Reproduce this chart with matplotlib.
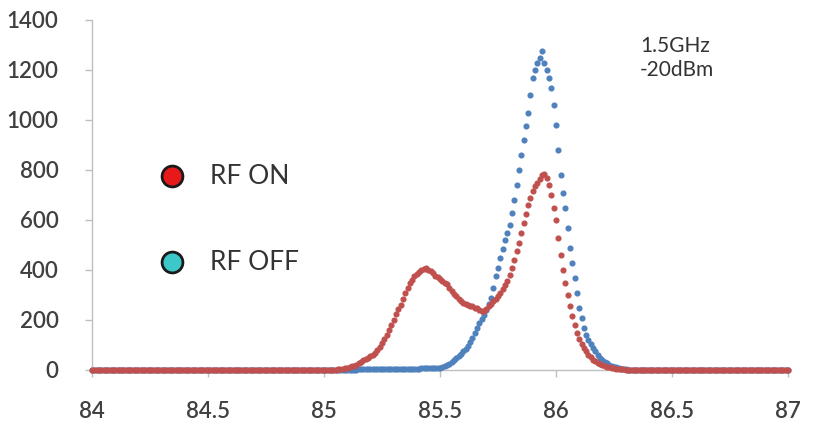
import numpy as np
import matplotlib
matplotlib.use("Agg")
import matplotlib.pyplot as plt

# ---- data -----------------------------------------------------------------
# frequency grid of the active region (85.00 ... 86.40, step 0.01)
x_active = np.round(np.arange(85.00, 86.405, 0.01), 2)

rf_on = [
    0, 0, 1, 1, 2, 2, 3, 4, 5, 7,                       # 85.0x
    10, 12, 15, 18, 22, 27, 32, 40, 45, 50,             # 85.1x
    55, 62, 70, 80, 92, 108, 125, 142, 160, 180,        # 85.2x
    200, 225, 245, 262, 285, 310, 330, 348, 360, 375,   # 85.3x
    385, 392, 400, 405, 410, 400, 395, 388, 378, 372,   # 85.4x
    365, 358, 350, 345, 330, 318, 305, 295, 285, 275,   # 85.5x
    268, 265, 262, 258, 255, 250, 248, 240, 235, 238,   # 85.6x
    245, 255, 265, 275, 285, 298, 310, 325, 340, 355,   # 85.7x
    380, 410, 440, 475, 510, 550, 590, 625, 660, 690,   # 85.8x
    715, 735, 750, 765, 780, 785, 770, 740, 700, 650,   # 85.9x
    600, 530, 460, 400, 350, 300, 255, 215, 180, 150,   # 86.0x
    125, 105, 90, 75, 62, 52, 42, 36, 30, 25,           # 86.1x
    20, 17, 14, 11, 9, 7, 6, 5, 4, 3,                   # 86.2x
    2, 2, 1, 1, 0, 0, 0, 0, 0, 0,                       # 86.3x
    0,                                                  # 86.40
]

rf_off = [
    0, 0, 0, 0, 0, 0, 0, 0, 0, 0,                       # 85.0x
    1, 1, 2, 2, 2, 3, 3, 3, 4, 4,                       # 85.1x
    4, 4, 5, 5, 5, 5, 5, 5, 5, 6,                       # 85.2x
    6, 6, 6, 6, 6, 6, 6, 6, 6, 6,                       # 85.3x
    6, 6, 7, 7, 7, 7, 7, 8, 8, 8,                       # 85.4x
    8, 11, 15, 20, 25, 32, 40, 47, 55, 65,              # 85.5x
    75, 85, 95, 112, 130, 150, 170, 188, 205, 222,      # 85.6x
    240, 265, 290, 330, 375, 410, 450, 485, 520, 550,   # 85.7x
    580, 630, 680, 740, 800, 860, 920, 975, 1030, 1100, # 85.8x
    1170, 1200, 1230, 1250, 1275, 1230, 1200, 1170, 1130, 1060,  # 85.9x
    980, 880, 780, 710, 650, 570, 490, 430, 370, 310,   # 86.0x
    250, 210, 170, 140, 120, 105, 90, 75, 60, 50,       # 86.1x
    40, 34, 28, 22, 18, 14, 11, 8, 6, 4,                # 86.2x
    3, 2, 1, 1, 0, 0, 0, 0, 0, 0,                       # 86.3x
    0,                                                  # 86.40
]

# flat (zero) baseline outside the active region
x_low = np.round(np.arange(84.00, 84.995, 0.01), 2)
x_high = np.round(np.arange(86.41, 87.005, 0.01), 2)
base_low = np.zeros(len(x_low))
base_high = np.zeros(len(x_high))

x_ticks = [84, 84.5, 85, 85.5, 86, 86.5, 87]
x_ticklabels = ["84", "84.5", "85", "85.5", "86", "86.5", "87"]
y_ticks = [0, 200, 400, 600, 800, 1000, 1200, 1400]

legend_labels = ["RF ON", "RF OFF"]
annotation = "1.5GHz\n-20dBm"

assert len(rf_on) == len(x_active) == len(rf_off)

x_all = np.concatenate([x_low, x_active, x_high])
on_all = np.concatenate([base_low, rf_on, base_high])
off_all = np.concatenate([base_low, rf_off, base_high])

# ---- figure ---------------------------------------------------------------
plt.rcParams['font.family'] = ['Lato', 'DejaVu Sans']

fig = plt.figure(figsize=(8.14, 4.32), dpi=100)
ax = fig.add_axes([92 / 814, 62 / 432, 696 / 814, 350 / 432])

red = "#C0504D"
blue = "#4F81BD"

ax.plot(x_all, off_all, linestyle="none", marker="o", ms=3.4,
        color=blue, mec=blue, zorder=2)
ax.plot(x_all, on_all, linestyle="none", marker="o", ms=3.4,
        color=red, mec=red, zorder=3)

ax.set_xlim(84, 87)
ax.set_ylim(0, 1400)
ax.set_xticks(x_ticks)
ax.set_xticklabels(x_ticklabels)
ax.set_yticks(y_ticks)

for s in ["top", "right"]:
    ax.spines[s].set_visible(False)
for s in ["left", "bottom"]:
    ax.spines[s].set_color("#BFBFBF")
    ax.spines[s].set_linewidth(1.0)
ax.spines["bottom"].set_zorder(1)

ax.tick_params(axis="both", colors="#BFBFBF", labelcolor="#404040",
               labelsize=16, length=5, width=1.0)
ax.tick_params(axis="y", pad=19)
ax.tick_params(axis="x", pad=17)
for lab in ax.get_xticklabels() + ax.get_yticklabels():
    lab.set_fontweight("semibold")

for ln in ax.lines:
    ln.set_clip_on(False)

# custom legend (circles + text)
leg_y = [176, 262]
leg_colors = ["#E8191B", "#3CC8C8"]
for yy, col, lab in zip(leg_y, leg_colors, legend_labels):
    fy = 1 - yy / 432
    fig.lines.append(plt.Line2D([172 / 814], [fy], transform=fig.transFigure,
                                marker="o", ms=15, mfc=col, mec="#1A1A1A",
                                mew=2.0, linestyle="none"))
    fig.text(210 / 814, fy, lab, fontsize=19, color="#333333",
             va="center", ha="left")

fig.text(640 / 814, 1 - 58 / 432, annotation, fontsize=15, color="#333333",
         va="center", ha="left", linespacing=1.3)

fig.savefig("out.png", dpi=100, facecolor="white")
